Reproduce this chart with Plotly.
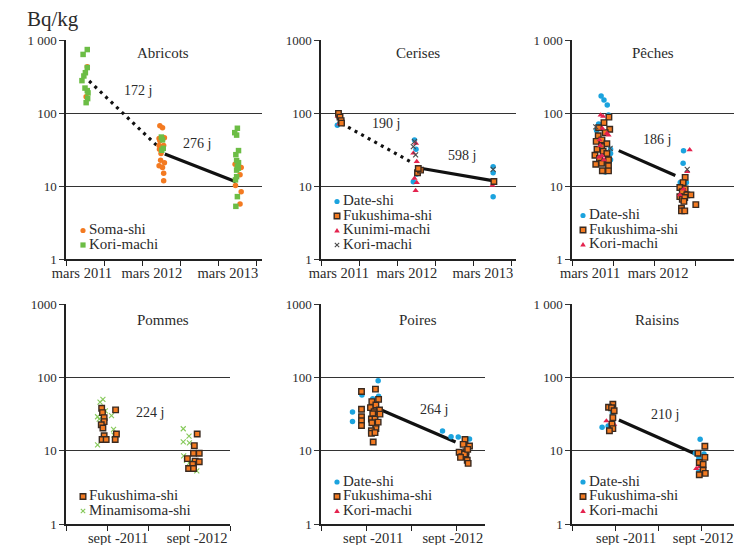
import math
import plotly.graph_objects as go

# The page body keeps its default 8px margin, so the figure is drawn 8px in
# from the top-left corner of the 742x545 window; size it to fill the rest.
VIEW_W, VIEW_H = 742, 545
OX, OY = 8, 8
W, H = VIEW_W - OX, VIEW_H - OY
FONT = "Liberation Serif"
TXT = "#2b2b2b"

ORANGE = "#F37A21"
GREEN = "#6CBD45"
BLUE = "#1BA3DE"
RED = "#E4234E"
XGREY = "#4a4a4a"
XGREEN = "#86C95A"
FUK_EDGE = "#3A2A20"


def fx(px):
    return (px - OX) / W


def fy(py):
    return 1 - (py - OY) / H


# ---------------- data ----------------
# Abricots
abr_soma_x = [0.56, 0.53, 2.47, 2.54, 2.45, 2.59, 2.47, 2.45, 2.57, 2.46, 2.50, 2.59, 2.49, 2.45, 2.54, 2.57, 2.57,
              4.45, 4.61, 4.58, 4.46, 4.61, 4.58]
abr_soma_y = [430, 168, 67, 63, 45, 46, 42, 36, 36, 32, 28, 21, 22.6, 19, 18, 15, 11.9,
              20, 18, 14.3, 10.2, 8.4, 5.7]
abr_kori_x = [0.45, 0.56, 0.56, 0.51, 0.47, 0.42, 0.50, 0.56, 0.58, 0.57, 0.53,
              2.51, 2.54, 2.56, 2.52,
              4.51, 4.44, 4.49, 4.54, 4.47, 4.49, 4.54, 4.51, 4.53, 4.49, 4.49, 4.46, 4.51, 4.47]
abr_kori_y = [635, 740, 420, 357, 322, 278, 220, 203, 189, 158, 139,
              47, 43, 33, 31,
              62, 54, 50, 30.7, 27, 22.4, 21, 18.5, 17.6, 16.6, 13.5, 12.2, 7.2, 5.3]
abr_dot_x, abr_dot_y = [0.61, 2.55], [275, 30]
abr_fit_x, abr_fit_y = [2.6, 4.47], [27.5, 11.5]

# Cerises
cer_date_x = [0.43, 2.46, 2.50, 2.43, 2.52, 4.53, 4.53, 4.53]
cer_date_y = [68, 43, 32, 11.5, 14.7, 18.5, 15.3, 7.2]
cer_fuk_x = [0.46, 0.50, 0.53, 0.54, 2.54, 2.62, 2.56, 4.55]
cer_fuk_y = [99, 88, 79, 73, 15.3, 16.6, 17.5, 11.6]
cer_kun_x = [0.48, 0.44, 2.50, 2.43, 2.52, 2.46, 2.52, 2.49, 4.51]
cer_kun_y = [71, 90, 38.5, 28.3, 21.7, 12.8, 11.2, 8.7, 10.3]
cer_kori_x = [0.46, 0.50, 2.46, 2.43, 2.49, 4.53]
cer_kori_y = [92, 80, 40.8, 34.8, 26.8, 17]
cer_dot_x, cer_dot_y = [0.54, 2.43], [72, 20.6]
cer_fit_x, cer_fit_y = [2.62, 4.55], [17.6, 11.8]

# Peches
pec_date_x = [0.71, 0.78, 0.86, 0.89, 0.65, 0.60, 0.94, 0.94, 0.94, 0.81,
              2.72, 2.71, 2.64, 2.79, 2.69]
pec_date_y = [171, 151, 129, 94, 71, 58, 32, 28, 23, 15.6,
              30.6, 20.6, 11.2, 11.2, 10.4]
pec_fuk_x = [0.90, 0.78, 0.65, 0.92, 0.81, 0.64, 0.73, 0.59, 0.85, 0.72, 0.61, 0.76, 0.85, 0.56, 0.67,
             0.89, 0.72, 0.58, 0.89, 0.74, 0.89,
             2.76, 2.71, 2.63, 2.76, 2.69, 2.80, 2.90, 2.63, 2.69, 2.75, 2.73, 2.67, 2.67, 2.75, 3.02]
pec_fuk_y = [88, 74, 63, 60, 54, 49, 43, 41, 38, 35, 32, 30, 28, 26.5, 24,
             23, 20.6, 20, 19, 16.3, 16.2,
             13.2, 11.2, 9.6, 9.2, 8.4, 7.6, 7.6, 7.2, 6.6, 7, 6.2, 5, 4.6, 4.6, 5.6]
pec_kori_x = [0.70, 0.76, 0.74, 0.67, 0.85, 0.73, 0.66, 0.78, 0.69, 0.89,
              2.87, 2.81, 2.63, 2.72]
pec_kori_y = [94, 90, 62, 43, 53, 26, 25, 23, 36, 50,
              31.4, 15.8, 7.6, 9.1]
pec_other_x = [0.58, 0.93, 2.81]
pec_other_y = [65, 33, 17]
pec_fit_x, pec_fit_y = [1.14, 2.52], [30.7, 14]

# Pommes
pom_fuk_x = [0.87, 0.89, 0.93, 0.93, 0.86, 0.90, 0.93, 0.88, 0.98, 1.21, 1.23, 1.20,
             3.20, 3.13, 3.11, 3.25, 2.96, 3.15, 3.25, 3.09, 2.99, 3.11]
pom_fuk_y = [37.8, 33, 28.2, 24.9, 22.6, 20.4, 16, 14.2, 14.2, 36, 16.9, 14.2,
             16.9, 11.7, 9.2, 9.2, 7.8, 7.2, 7.05, 6.5, 5.7, 5.7]
pom_mina_x = [0.83, 0.90, 0.96, 0.77, 0.81, 1.11, 1.16, 1.17, 0.77,
              2.86, 3.00, 2.86, 3.01, 2.87, 3.02, 3.07, 3.19, 2.94]
pom_mina_y = [46, 50, 35, 29, 27, 30, 19.5, 16.3, 12,
              19.9, 15.8, 13.2, 12.8, 8.5, 6.9, 6.7, 5.3, 7.4]

# Poires
poi_date_x = [0.70, 0.70, 0.91, 1.27, 1.28, 1.15, 1.24, 2.70, 2.89, 3.05, 3.30]
poi_date_y = [33.7, 25, 57.6, 90, 55, 51, 30.7, 18.5, 15.5, 15.4, 14.4]
poi_fuk_x = [0.90, 1.21, 0.90, 0.90, 0.90, 0.90, 1.13, 1.28, 1.10, 1.22, 1.30, 1.18, 1.15, 1.12, 1.20,
             1.31, 1.22, 1.27, 1.13, 1.22, 1.12, 1.12, 1.20, 1.16,
             3.20, 3.16, 3.30, 3.07, 3.22, 3.13, 3.22, 3.25, 3.19, 3.27, 3.10, 3.26]
poi_fuk_y = [64, 69, 36.7, 29, 25.6, 22, 46.6, 50, 38.6, 42, 35.8, 34, 31.8, 27, 27,
             31.5, 23, 24.5, 24, 20, 18.7, 17.2, 17.6, 13.1,
             14.2, 12.2, 11.6, 9.5, 9.7, 8.3, 8.4, 7.4, 9, 6.7, 8.1, 10.4]
poi_fit_x, poi_fit_y = [1.30, 2.99], [36.7, 13.1]

# Raisins
rai_date_x = [0.70, 0.84, 0.94, 2.98, 2.87, 3.07, 2.95, 2.96, 2.95]
rai_date_y = [20.8, 21.7, 33, 14.3, 9.2, 9, 8, 6.8, 5.2]
rai_fuk_x = [0.95, 0.85, 0.92, 0.98, 0.95, 0.93, 0.95, 0.87,
             3.09, 2.93, 3.09, 2.96, 3.05, 3.05, 2.96, 3.10]
rai_fuk_y = [43, 39, 38.5, 35, 28.2, 23, 20, 18.7,
             11.5, 9.2, 8.1, 6.9, 6.5, 5.4, 4.7, 4.9]
rai_kori_x = [0.80, 0.91, 0.98, 2.89, 2.96]
rai_kori_y = [25.4, 24, 22.9, 5.7, 6.0]
rai_fit_x, rai_fit_y = [1.09, 2.87], [26.2, 9.0]

# axis labels
top_labels = ["mars 2011", "mars 2012", "mars 2013"]
bot_labels = ["sept -2011", "sept -2012"]
y_vals = [1, 10, 100, 1000]

# ---------------- styles ----------------
MK = {
    "soma": dict(color=ORANGE, size=5.5, symbol="circle"),
    "korig": dict(color=GREEN, size=5.5, symbol="square"),
    "date": dict(color=BLUE, size=5.5, symbol="circle"),
    "fuk": dict(color=ORANGE, size=5.5, symbol="square", line=dict(color=FUK_EDGE, width=1.4)),
    "kun": dict(color=RED, size=5.5, symbol="triangle-up"),
    "korix": dict(color=XGREY, size=5, symbol="x-thin", line=dict(color=XGREY, width=1.1)),
    "mina": dict(color=XGREEN, size=5, symbol="x-thin", line=dict(color=XGREEN, width=1.1)),
}

# panel pixel geometry in the window: (left, right, top, bottom); unit = px per tick step
panels = [
    (66, 262, 40, 259.3),
    (321, 516, 40, 259.3),
    (572, 742, 40, 259.3),
    (66, 230, 304, 524),
    (321, 485, 304, 524),
    (572, 742, 304, 524),
]
units = [38, 38, 41, 41, 45, 43]
label_pos = [
    [0.42, 2.26, 4.26],
    [0.47, 2.26, 4.26],
    [0.44, 2.10],
    [1.27, 3.20],
    [1.16, 2.93],
    [1.26, 3.05],
]
nticks = [6, 6, 5, 5, 4, 4]
thousand = ["1 000", "1000", "1 000", "1000", "1000", "1 000"]
YTOP = 3.006  # a hair above 1000 so that its gridline is drawn

fig = go.Figure()
layout = dict(
    template="none",
    width=W, height=H, margin=dict(l=0, r=0, t=0, b=0, pad=0), autosize=False,
    paper_bgcolor="white", plot_bgcolor="rgba(0,0,0,0)",
    showlegend=False, font=dict(family=FONT, color=TXT, size=13),
)

for i, (l, r, t, b) in enumerate(panels):
    n = "" if i == 0 else str(i + 1)
    labels = top_labels if i < 3 else bot_labels
    rng = (r - l) / units[i]
    dec = (b - t) / 3.0
    t_ext = t - (YTOP - 3) * dec
    layout["xaxis" + n] = dict(
        domain=[fx(l), min(1.0, fx(r))], anchor="y" + n, range=[0, rng], automargin=False,
        showgrid=False, zeroline=False, showline=True, linecolor="#222", linewidth=1.5,
        tickmode="array", tickvals=label_pos[i][:len(labels)], ticktext=labels,
        ticks="", ticklen=0, tickfont=dict(family=FONT, size=14.5, color=TXT),
        minor=dict(tickmode="array", tickvals=list(range(nticks[i])), ticks="outside",
                   ticklen=5, tickwidth=1.3, tickcolor="#222", showgrid=False),
        fixedrange=True,
    )
    layout["yaxis" + n] = dict(
        domain=[fy(b), fy(t_ext)], anchor="x" + n, type="log", range=[0, YTOP],
        automargin=False,
        tickmode="array", tickvals=y_vals, ticktext=["1", "10", "100", thousand[i]],
        showgrid=True, gridcolor="#333", gridwidth=1.4, zeroline=False,
        showline=True, linecolor="#222", linewidth=1.5,
        ticks="outside", ticklen=5, tickwidth=1.4, tickcolor="#333",
        tickfont=dict(family=FONT, size=13, color=TXT), fixedrange=True,
    )
fig.update_layout(**layout)


def ax(i):
    return ("x", "y") if i == 0 else ("x" + str(i + 1), "y" + str(i + 1))


def pts(i, xs, ys, key, name):
    xa, ya = ax(i)
    fig.add_trace(go.Scatter(x=xs, y=ys, mode="markers", marker=MK[key], name=name,
                             xaxis=xa, yaxis=ya, cliponaxis=False))


def line(i, xs, ys, dash="solid"):
    xa, ya = ax(i)
    fig.add_trace(go.Scatter(x=xs, y=ys, mode="lines", xaxis=xa, yaxis=ya,
                             line=dict(color="#111", width=3.2, dash=dash)))


DOT = "3px,4.5px"
# Abricots
line(0, abr_dot_x, abr_dot_y, DOT)
line(0, abr_fit_x, abr_fit_y)
pts(0, abr_soma_x, abr_soma_y, "soma", "Soma-shi")
pts(0, abr_kori_x, abr_kori_y, "korig", "Kori-machi")
# Cerises
line(1, cer_dot_x, cer_dot_y, DOT)
line(1, cer_fit_x, cer_fit_y)
pts(1, cer_date_x, cer_date_y, "date", "Date-shi")
pts(1, cer_kun_x, cer_kun_y, "kun", "Kunimi-machi")
pts(1, cer_kori_x, cer_kori_y, "korix", "Kori-machi")
pts(1, cer_fuk_x, cer_fuk_y, "fuk", "Fukushima-shi")
# Peches
line(2, pec_fit_x, pec_fit_y)
pts(2, pec_date_x, pec_date_y, "date", "Date-shi")
pts(2, pec_fuk_x, pec_fuk_y, "fuk", "Fukushima-shi")
pts(2, pec_kori_x, pec_kori_y, "kun", "Kori-machi")
pts(2, pec_other_x, pec_other_y, "korix", "autre")
# Pommes
pts(3, pom_mina_x, pom_mina_y, "mina", "Minamisoma-shi")
pts(3, pom_fuk_x, pom_fuk_y, "fuk", "Fukushima-shi")
# Poires
line(4, poi_fit_x, poi_fit_y)
pts(4, poi_date_x, poi_date_y, "date", "Date-shi")
pts(4, poi_fuk_x, poi_fuk_y, "fuk", "Fukushima-shi")
# Raisins
line(5, rai_fit_x, rai_fit_y)
pts(5, rai_date_x, rai_date_y, "date", "Date-shi")
pts(5, rai_kori_x, rai_kori_y, "kun", "Kori-machi")
pts(5, rai_fuk_x, rai_fuk_y, "fuk", "Fukushima-shi")

annotations = []
shapes = []

# panel titles
titles = ["Abricots", "Cerises", "Pêches", "Pommes", "Poires", "Raisins"]
title_x = [0.495, 0.496, 0.475, 0.59, 0.59, 0.50]
title_y = [53, 53, 53, 320, 320, 320]
for i, tt in enumerate(titles):
    l, r, t, b = panels[i]
    annotations.append(dict(text=tt, xref="paper", yref="paper",
                            x=fx(l + title_x[i] * (r - l)), y=fy(title_y[i]),
                            xanchor="center", yanchor="middle",
                            showarrow=False, font=dict(family=FONT, size=15, color=TXT)))

# half-life labels (data coords)
half = [(0, "172 j", 1.9, 204), (0, "276 j", 3.44, 38.6), (1, "190 j", 1.71, 72), (1, "598 j", 3.7, 26.5),
        (2, "186 j", 2.08, 43), (3, "224 j", 2.05, 33), (4, "264 j", 2.52, 36), (5, "210 j", 2.17, 30.7)]
for i, tt, xx, yy in half:
    xa, ya = ax(i)
    annotations.append(dict(text=tt, xref=xa, yref=ya, x=xx, y=math.log10(yy), showarrow=False,
                            xanchor="center", yanchor="middle",
                            font=dict(family=FONT, size=14, color=TXT)))

annotations.append(dict(text="Bq/kg", xref="paper", yref="paper", x=fx(25), y=fy(19),
                        xanchor="left", yanchor="middle", showarrow=False,
                        font=dict(family=FONT, size=21, color=TXT)))

# legends: ([(key, name)], marker x px, first row y px)
legends = [
    ([("soma", "Soma-shi"), ("korig", "Kori-machi")], 83, 230.5),
    ([("date", "Date-shi"), ("fuk", "Fukushima-shi"), ("kun", "Kunimi-machi"), ("korix", "Kori-machi")], 337, 201.5),
    ([("date", "Date-shi"), ("fuk", "Fukushima-shi"), ("kun", "Kori-machi")], 583, 215.5),
    ([("fuk", "Fukushima-shi"), ("mina", "Minamisoma-shi")], 83, 496.5),
    ([("date", "Date-shi"), ("fuk", "Fukushima-shi"), ("kun", "Kori-machi")], 337, 482),
    ([("date", "Date-shi"), ("fuk", "Fukushima-shi"), ("kun", "Kori-machi")], 583, 482),
]
STEP = 14.5


def sym_shape(key, cx, cy):
    base = dict(xref="paper", yref="paper", xsizemode="pixel", ysizemode="pixel",
                xanchor=fx(cx), yanchor=fy(cy))
    m = MK[key]
    if key in ("soma", "date"):
        return dict(type="circle", x0=-2.6, x1=2.6, y0=-2.6, y1=2.6, fillcolor=m["color"],
                    line=dict(width=0), **base)
    if key == "korig":
        return dict(type="rect", x0=-2.6, x1=2.6, y0=-2.6, y1=2.6, fillcolor=m["color"],
                    line=dict(width=0), **base)
    if key == "fuk":
        return dict(type="rect", x0=-2.8, x1=2.8, y0=-2.8, y1=2.8, fillcolor=ORANGE,
                    line=dict(width=1.4, color=FUK_EDGE), **base)
    if key == "kun":
        return dict(type="path", path="M-2.8,-2 L2.8,-2 L0,2.4 Z", fillcolor=RED,
                    line=dict(width=0), **base)
    col = m["color"]
    return dict(type="path", path="M-2.2,-2.2 L2.2,2.2 M-2.2,2.2 L2.2,-2.2",
                line=dict(width=1.1, color=col), **base)


for items, mx, my in legends:
    for k, (key, name) in enumerate(items):
        cy = my + k * STEP
        shapes.append(sym_shape(key, mx, cy))
        annotations.append(dict(text=name, xref="paper", yref="paper", x=fx(mx + 4), y=fy(cy - 1.5),
                                xanchor="left", yanchor="middle", showarrow=False,
                                font=dict(family=FONT, size=15, color=TXT)))

fig.update_layout(annotations=annotations, shapes=shapes)
fig.write_html("out.html")
